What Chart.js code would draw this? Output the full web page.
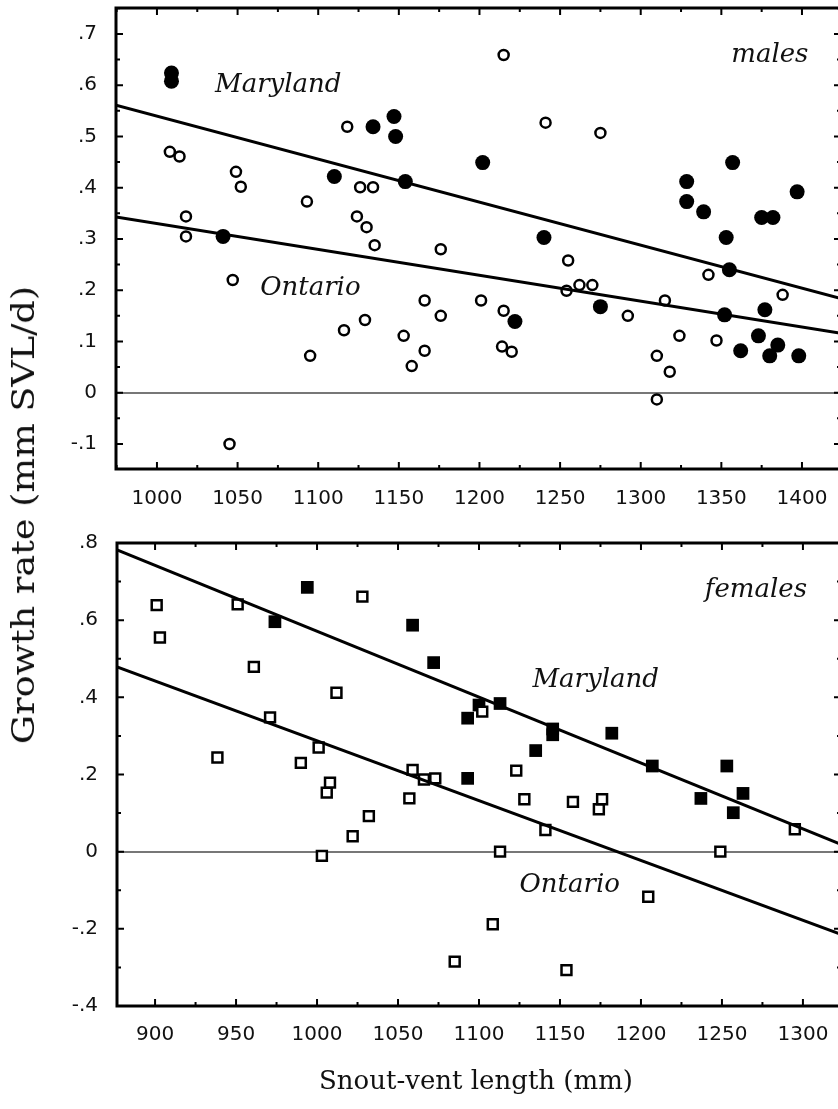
<!DOCTYPE html>
<html><head><meta charset="utf-8">
<script src="https://cdn.jsdelivr.net/npm/chart.js@4"></script>
<style>
html,body{margin:0;padding:0;background:#fff;overflow:hidden;width:838px;height:1109px;position:relative;}
#c1{position:absolute;left:0;top:0;}
#c2{position:absolute;left:0;top:520px;}
.yt{position:absolute;left:23px;top:515px;transform:translate(-50%,-50%) rotate(-90deg) scaleX(1.18);font:31px "DejaVu Serif";white-space:nowrap;color:#111;}
.xt{position:absolute;left:476px;top:1080px;transform:translate(-50%,-50%);font:26px "DejaVu Serif";white-space:nowrap;color:#111;}
</style></head>
<body>
<canvas id="c1" width="850" height="520"></canvas>
<canvas id="c2" width="850" height="589"></canvas>
<div class="yt">Growth rate (mm SVL/d)</div>
<div class="xt">Snout-vent length (mm)</div>
<script>
// ---------- males (top panel) ----------
const malesOntarioX = [1008,1014,1049,1052,1018,1018,1047,1045,1093,1095,1116,1118,1126,1134,1124,1130,1135,1129,1153,1158,1166,1166,1176,1176,1201,1215,1215,1214,1220,1241,1255,1254,1262,1270,1275,1292,1310,1310,1315,1318,1324,1342,1347,1388];
const malesOntarioY = [0.470,0.461,0.431,0.402,0.344,0.305,0.220,-0.100,0.373,0.072,0.122,0.519,0.401,0.401,0.344,0.323,0.288,0.142,0.111,0.052,0.082,0.180,0.150,0.280,0.180,0.659,0.160,0.090,0.080,0.527,0.258,0.199,0.210,0.210,0.507,0.150,0.072,-0.013,0.180,0.041,0.111,0.230,0.102,0.191];
const malesMarylandX = [1009,1009,1041,1110,1134,1147,1148,1154,1202,1222,1240,1275,1328.5,1328.5,1339,1352,1353,1355,1357,1362,1373,1375,1377,1380,1382,1385,1397,1398];
const malesMarylandY = [0.624,0.608,0.305,0.422,0.519,0.539,0.500,0.412,0.449,0.139,0.303,0.168,0.412,0.373,0.353,0.152,0.303,0.240,0.449,0.082,0.111,0.342,0.162,0.072,0.342,0.093,0.392,0.072];
const malesMarylandFitX = [974.6,1424.2], malesMarylandFitY = [0.561,0.184];
const malesOntarioFitX = [974.6,1424.2], malesOntarioFitY = [0.343,0.116];
const malesXTicks = [1000,1050,1100,1150,1200,1250,1300,1350,1400];
const malesYTicks = [-0.1,0,0.1,0.2,0.3,0.4,0.5,0.6,0.7];

// ---------- females (bottom panel) ----------
const femalesOntarioX = [901,903,938.5,951,961,971,990,1001,1003,1006,1008,1012,1022,1028,1032,1057,1059,1066,1073,1085,1102,1108.5,1113,1123,1128,1141,1154,1158,1174,1176,1204.5,1249,1295];
const femalesOntarioY = [0.639,0.555,0.244,0.641,0.479,0.348,0.230,0.270,-0.011,0.153,0.179,0.412,0.040,0.661,0.092,0.138,0.212,0.187,0.190,-0.285,0.363,-0.188,0.000,0.210,0.136,0.056,-0.307,0.129,0.110,0.136,-0.117,0.000,0.058];
const femalesMarylandX = [974,994,1059,1072,1093,1093,1100,1113,1135,1145.5,1145.5,1182,1207,1237,1253,1257,1263];
const femalesMarylandY = [0.596,0.685,0.587,0.490,0.346,0.190,0.380,0.384,0.262,0.318,0.303,0.307,0.222,0.138,0.222,0.101,0.151];
const femalesMarylandFitX = [876.5,1323.5], femalesMarylandFitY = [0.782,0.019];
const femalesOntarioFitX = [876.5,1323.5], femalesOntarioFitY = [0.479,-0.214];
const femalesXTicks = [900,950,1000,1050,1100,1150,1200,1250,1300];
const femalesYTicks = [-0.4,-0.2,0,0.2,0.4,0.6,0.8];

const pts = (xs, ys) => xs.map((x, i) => ({x, y: ys[i]}));
const fmtY = v => { if (Math.abs(v) < 1e-9) return '0'; const s = Math.abs(v).toFixed(1).replace(/^0/, ''); return (v < 0 ? '-' : '') + s; };
const TICKFONT = {family: '"DejaVu Sans"', size: 20};

function framePlugin(minorX, minorY, labels) {
  return {
    id: 'frame',
    afterDraw(chart) {
      const {ctx, chartArea: a, scales: {x, y}} = chart;
      ctx.save();
      ctx.strokeStyle = '#000';
      ctx.lineWidth = 2;
      const majX = x.ticks.map(t => t.value), majY = y.ticks.map(t => t.value);
      const isMaj = (arr, v) => arr.some(m => Math.abs(m - v) < 1e-6);
      for (let v = Math.ceil(x.min / minorX) * minorX; v <= x.max; v += minorX) {
        const px = x.getPixelForValue(v), L = isMaj(majX, v) ? 7 : 4;
        ctx.beginPath(); ctx.moveTo(px, a.bottom); ctx.lineTo(px, a.bottom - L);
        ctx.moveTo(px, a.top); ctx.lineTo(px, a.top + L); ctx.stroke();
      }
      for (let k = Math.ceil(y.min / minorY - 1e-6); k * minorY <= y.max + 1e-9; k++) {
        const v = k * minorY, py = y.getPixelForValue(v), L = isMaj(majY, v) ? 7 : 4;
        ctx.beginPath(); ctx.moveTo(a.left, py); ctx.lineTo(a.left + L, py);
        ctx.moveTo(a.right, py); ctx.lineTo(a.right - L, py); ctx.stroke();
      }
      ctx.lineWidth = 3;
      ctx.strokeRect(a.left, a.top, a.right - a.left, a.bottom - a.top);
      ctx.fillStyle = '#111';
      ctx.textBaseline = 'middle';
      labels.forEach(l => {
        ctx.font = 'italic 26px "DejaVu Serif"';
        ctx.textAlign = l.align;
        ctx.fillText(l.text, x.getPixelForValue(l.x), y.getPixelForValue(l.y));
      });
      ctx.restore();
    }
  };
}

function makeChart(id, cfg) {
  return new Chart(document.getElementById(id), {
    type: 'scatter',
    data: {datasets: [
      {type: 'line', data: pts(cfg.mdFitX, cfg.mdFitY), borderColor: '#000', borderWidth: 3, pointRadius: 0, fill: false},
      {type: 'line', data: pts(cfg.onFitX, cfg.onFitY), borderColor: '#000', borderWidth: 3, pointRadius: 0, fill: false},
      {data: pts(cfg.onX, cfg.onY), pointStyle: cfg.style, pointRadius: cfg.openR, borderWidth: 2.5, borderColor: '#000', backgroundColor: '#fff'},
      {data: pts(cfg.mdX, cfg.mdY), pointStyle: cfg.style, pointRadius: cfg.fillR, borderWidth: 0, borderColor: '#000', backgroundColor: '#000'}
    ]},
    options: {
      responsive: false, animation: false, devicePixelRatio: 1,
      layout: {autoPadding: false, padding: {top: cfg.padTop, right: 9, left: 0, bottom: 0}},
      plugins: {legend: {display: false}, tooltip: {enabled: false}},
      scales: {
        x: {type: 'linear', min: cfg.xmin, max: cfg.xmax,
          afterBuildTicks: s => { s.ticks = cfg.xTicks.map(v => ({value: v})); },
          afterFit: s => { s.height = cfg.xH; s.paddingLeft = 0; s.paddingRight = 0; },
          grid: {display: false, drawTicks: false}, border: {display: false},
          ticks: {font: TICKFONT, color: '#111', padding: cfg.xPad, maxRotation: 0, autoSkip: false, callback: v => String(v)}},
        y: {type: 'linear', min: cfg.ymin, max: cfg.ymax,
          afterBuildTicks: s => { s.ticks = cfg.yTicks.map(v => ({value: v})); },
          afterFit: s => { s.width = cfg.yW; s.paddingTop = 0; s.paddingBottom = 0; },
          grid: {drawTicks: false, lineWidth: 2, color: c => Math.abs(c.tick.value) < 1e-9 ? '#777' : 'rgba(0,0,0,0)'},
          border: {display: false},
          ticks: {font: TICKFONT, color: '#111', padding: 19, autoSkip: false, callback: v => fmtY(v)}}
      }
    },
    plugins: [framePlugin(cfg.minorX, cfg.minorY, cfg.labels)]
  });
}

makeChart('c1', {
  onX: malesOntarioX, onY: malesOntarioY, mdX: malesMarylandX, mdY: malesMarylandY,
  mdFitX: malesMarylandFitX, mdFitY: malesMarylandFitY, onFitX: malesOntarioFitX, onFitY: malesOntarioFitY,
  style: 'circle', openR: 5, fillR: 7.5,
  xmin: 974.6, xmax: 1424.2, ymin: -0.1488, ymax: 0.7507,
  xTicks: malesXTicks, yTicks: malesYTicks, minorX: 25, minorY: 0.05,
  padTop: 8, xH: 51, yW: 116, xPad: 18,
  labels: [
    {text: 'Maryland', x: 1036, y: 0.600, align: 'left'},
    {text: 'Ontario', x: 1064, y: 0.204, align: 'left'},
    {text: 'males', x: 1404, y: 0.659, align: 'right'}
  ]
});

makeChart('c2', {
  onX: femalesOntarioX, onY: femalesOntarioY, mdX: femalesMarylandX, mdY: femalesMarylandY,
  mdFitX: femalesMarylandFitX, mdFitY: femalesMarylandFitY, onFitX: femalesOntarioFitX, onFitY: femalesOntarioFitY,
  style: 'rect', openR: 7, fillR: 9,
  xmin: 876.5, xmax: 1323.5, ymin: -0.4, ymax: 0.8,
  xTicks: femalesXTicks, yTicks: femalesYTicks, minorX: 25, minorY: 0.1,
  padTop: 23, xH: 103, yW: 117, xPad: 17,
  labels: [
    {text: 'females', x: 1302.5, y: 0.678, align: 'right'},
    {text: 'Maryland', x: 1133, y: 0.445, align: 'left'},
    {text: 'Ontario', x: 1125, y: -0.087, align: 'left'}
  ]
});
</script>
</body></html>
